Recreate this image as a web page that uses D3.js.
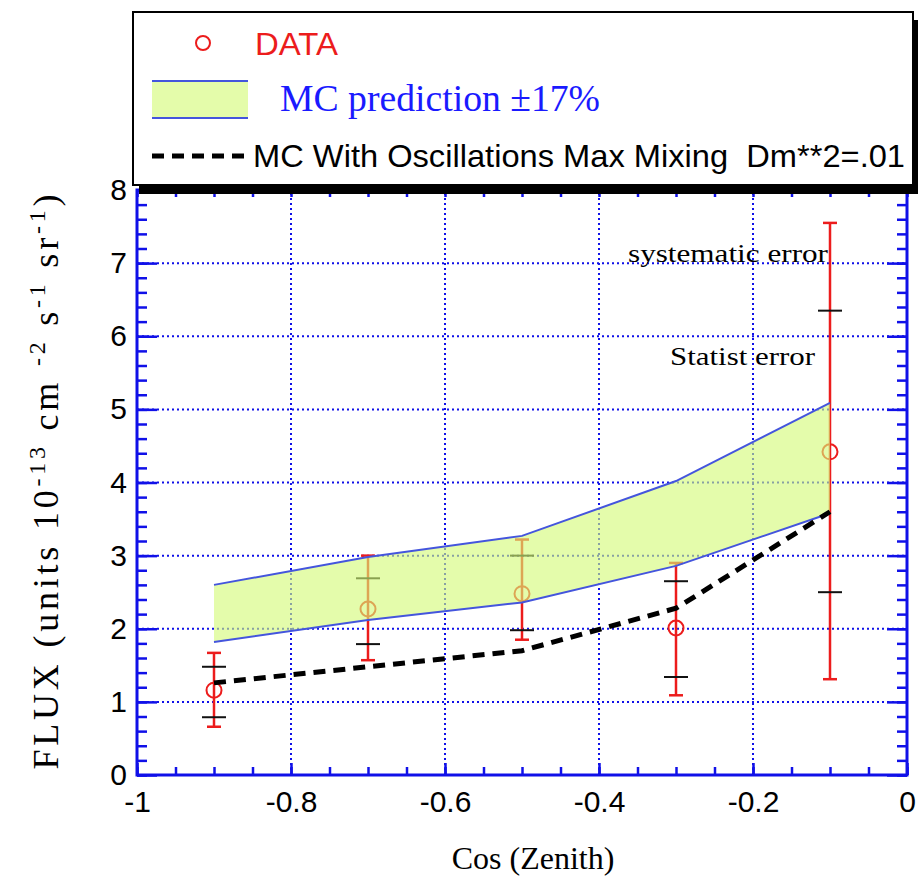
<!DOCTYPE html>
<html lang="en">

<head>
    <meta charset="UTF-8">
    <title>Flux vs Cos(Zenith)</title>
    <script src="https://d3js.org/d3.v7.min.js"></script>
    <style>
        body { margin: 0; background: #fff; }
        text { white-space: pre; }
    </style>
</head>

<body>
    <script>
        // cos(zenith) bins
        var cosZ = [-0.9, -0.7, -0.5, -0.3, -0.1];
        // measured flux
        var dataFlux = [1.16, 2.27, 2.48, 2.01, 4.42];
        // total (systematic) error bar ends
        var sysLow = [0.66, 1.57, 1.85, 1.09, 1.31];
        var sysHigh = [1.67, 3.0, 3.22, 2.9, 7.55];
        // statistical error bar ends
        var statLow = [0.79, 1.79, 1.98, 1.34, 2.5];
        var statHigh = [1.48, 2.69, 3.0, 2.65, 6.35];
        // MC prediction band (+-17%)
        var mcLow = [1.82, 2.12, 2.36, 2.86, 3.58];
        var mcHigh = [2.6, 2.98, 3.27, 4.02, 5.09];
        // MC with oscillations
        var oscX = [-0.9, -0.7, -0.5, -0.3, -0.1];
        var oscY = [1.26, 1.48, 1.7, 2.28, 3.6];

        var xTicks = [-1, -0.8, -0.6, -0.4, -0.2, 0];
        var yTicks = [0, 1, 2, 3, 4, 5, 6, 7, 8];

        var width = 918;
        var height = 877;
        var svg = d3.select("body").append("svg")
            .attr("width", width)
            .attr("height", height);

        var xScale = d3.scaleLinear().domain([-1, 0]).range([137, 907]);
        var yScale = d3.scaleLinear().domain([0, 8]).range([775, 190]);

        var blue = "#1010e8";
        var red = "#ec1c1c";
        var sans = "'Liberation Sans', Arial, sans-serif";
        var serif = "'Liberation Serif', 'Times New Roman', serif";

        // grid
        var grid = svg.append("g");
        grid.selectAll(".gx")
            .data(xTicks.slice(1, -1))
            .enter().append("line")
            .attr("x1", d => xScale(d)).attr("x2", d => xScale(d))
            .attr("y1", yScale(0)).attr("y2", yScale(8))
            .attr("stroke", blue).attr("stroke-width", 2)
            .attr("stroke-dasharray", "2,3");
        grid.selectAll(".gy")
            .data(yTicks.slice(1, -1))
            .enter().append("line")
            .attr("x1", xScale(-1)).attr("x2", xScale(0))
            .attr("y1", d => yScale(d)).attr("y2", d => yScale(d))
            .attr("stroke", blue).attr("stroke-width", 2)
            .attr("stroke-dasharray", "2,3");

        // red error bars (systematic)
        var bars = svg.append("g");
        bars.selectAll(".sys")
            .data(cosZ)
            .enter().append("line")
            .attr("x1", d => xScale(d)).attr("x2", d => xScale(d))
            .attr("y1", (d, i) => yScale(sysLow[i]))
            .attr("y2", (d, i) => yScale(sysHigh[i]))
            .attr("stroke", red).attr("stroke-width", 2.5);
        [sysLow, sysHigh].forEach(function (arr) {
            bars.selectAll(null)
                .data(cosZ)
                .enter().append("line")
                .attr("x1", d => xScale(d) - 7).attr("x2", d => xScale(d) + 7)
                .attr("y1", (d, i) => yScale(arr[i]))
                .attr("y2", (d, i) => yScale(arr[i]))
                .attr("stroke", red).attr("stroke-width", 2.5);
        });
        // black caps (statistical)
        [statLow, statHigh].forEach(function (arr) {
            bars.selectAll(null)
                .data(cosZ)
                .enter().append("line")
                .attr("x1", d => xScale(d) - 12).attr("x2", d => xScale(d) + 12)
                .attr("y1", (d, i) => yScale(arr[i]))
                .attr("y2", (d, i) => yScale(arr[i]))
                .attr("stroke", "#111").attr("stroke-width", 2);
        });
        // data points
        svg.append("g").selectAll("circle")
            .data(cosZ)
            .enter().append("circle")
            .attr("cx", d => xScale(d))
            .attr("cy", (d, i) => yScale(dataFlux[i]))
            .attr("r", 7.5)
            .attr("fill", "none")
            .attr("stroke", red).attr("stroke-width", 2);

        // MC band
        var area = d3.area()
            .x(d => xScale(d))
            .y0((d, i) => yScale(mcLow[i]))
            .y1((d, i) => yScale(mcHigh[i]));
        svg.append("path")
            .attr("d", area(cosZ))
            .attr("fill", "#d4fa78")
            .attr("fill-opacity", 0.62);
        [mcLow, mcHigh].forEach(function (arr) {
            svg.append("path")
                .attr("d", d3.line().x(d => xScale(d)).y((d, i) => yScale(arr[i]))(cosZ))
                .attr("fill", "none")
                .attr("stroke", "#4455dd").attr("stroke-width", 2);
        });

        // oscillation line
        svg.append("path")
            .attr("d", d3.line().x(d => xScale(d)).y((d, i) => yScale(oscY[i]))(oscX))
            .attr("fill", "none")
            .attr("stroke", "#000").attr("stroke-width", 5)
            .attr("stroke-dasharray", "12,8");

        // axes
        function styleAxis(g) {
            g.select(".domain").remove();
            g.selectAll(".tick line").attr("stroke", blue).attr("stroke-width", 2.5);
            g.selectAll("text").attr("fill", "#000")
                .attr("font-family", sans).attr("font-size", 30);
        }
        var xMinor = d3.range(-1, 0.001, 0.05);
        var yMinor = d3.range(0, 8.001, 0.2);

        svg.append("g").attr("transform", "translate(0," + yScale(0) + ")")
            .call(d3.axisBottom(xScale).tickValues(xMinor).tickSize(-8).tickFormat(""))
            .call(styleAxis);
        svg.append("g").attr("transform", "translate(0," + yScale(0) + ")")
            .call(d3.axisBottom(xScale).tickValues(xTicks).tickSize(-12).tickPadding(16)
                .tickFormat(d => d === 0 ? "0" : String(d)))
            .call(styleAxis);
        svg.append("g").attr("transform", "translate(0," + yScale(8) + ")")
            .call(d3.axisTop(xScale).tickValues(xMinor).tickSize(-7).tickFormat(""))
            .call(styleAxis);
        svg.append("g").attr("transform", "translate(" + xScale(-1) + ",0)")
            .call(d3.axisLeft(yScale).tickValues(yMinor).tickSize(-10).tickFormat(""))
            .call(styleAxis);
        svg.append("g").attr("transform", "translate(" + xScale(-1) + ",0)")
            .call(d3.axisLeft(yScale).tickValues(yTicks).tickSize(-20).tickPadding(10))
            .call(styleAxis);
        svg.append("g").attr("transform", "translate(" + xScale(0) + ",0)")
            .call(d3.axisRight(yScale).tickValues(yMinor).tickSize(-10).tickFormat(""))
            .call(styleAxis);
        svg.append("g").attr("transform", "translate(" + xScale(0) + ",0)")
            .call(d3.axisRight(yScale).tickValues(yTicks).tickSize(-20).tickFormat(""))
            .call(styleAxis);

        // frame
        svg.append("rect")
            .attr("x", xScale(-1)).attr("y", yScale(8))
            .attr("width", xScale(0) - xScale(-1))
            .attr("height", yScale(0) - yScale(8))
            .attr("fill", "none").attr("stroke", blue).attr("stroke-width", 3);

        // axis titles
        svg.append("text")
            .attr("x", 533).attr("y", 869)
            .attr("text-anchor", "middle")
            .attr("font-family", serif).attr("font-size", 32)
            .text("Cos (Zenith)");

        var yTitle = svg.append("text")
            .attr("transform", "translate(58,482) rotate(-90)")
            .attr("text-anchor", "middle")
            .attr("font-family", serif).attr("font-size", 36)
            .attr("textLength", 575)
            .attr("lengthAdjust", "spacing");
        var parts = [["FLUX (units 10", 0], ["-13", 1], [" cm ", 0], ["-2", 1], [" s", 0], ["-1", 1], [" sr", 0], ["-1", 1], [")", 0]];
        parts.forEach(function (p) {
            var t = yTitle.append("tspan").text(p[0]);
            if (p[1]) t.attr("dy", -13).attr("font-size", 24);
            else t.attr("dy", 13);
        });
        yTitle.select("tspan").attr("dy", 0);

        // annotations
        svg.append("text").attr("x", 628).attr("y", 262)
            .attr("font-family", serif).attr("font-size", 26)
            .attr("textLength", 200).attr("lengthAdjust", "spacingAndGlyphs")
            .text("systematic error");
        svg.append("text").attr("x", 670).attr("y", 365)
            .attr("font-family", serif).attr("font-size", 26)
            .attr("textLength", 145).attr("lengthAdjust", "spacingAndGlyphs")
            .text("Statist error");

        // legend
        var legend = svg.append("g");
        legend.append("rect")
            .attr("x", 139).attr("y", 20).attr("width", 780).attr("height", 174)
            .attr("fill", "#000");
        legend.append("rect")
            .attr("x", 133).attr("y", 12).attr("width", 780).attr("height", 173)
            .attr("fill", "#fff").attr("stroke", "#000").attr("stroke-width", 2);
        legend.append("circle")
            .attr("cx", 203).attr("cy", 43).attr("r", 7)
            .attr("fill", "none").attr("stroke", red).attr("stroke-width", 2);
        legend.append("text").attr("x", 255).attr("y", 55)
            .attr("fill", red).attr("font-family", sans).attr("font-size", 32)
            .attr("textLength", 83).attr("lengthAdjust", "spacingAndGlyphs")
            .text("DATA");
        legend.append("rect")
            .attr("x", 152).attr("y", 81).attr("width", 96).attr("height", 37)
            .attr("fill", "#e4fcaa");
        [81, 118].forEach(function (yy) {
            legend.append("line")
                .attr("x1", 152).attr("x2", 248).attr("y1", yy).attr("y2", yy)
                .attr("stroke", "#4455dd").attr("stroke-width", 2);
        });
        legend.append("text").attr("x", 280).attr("y", 111)
            .attr("fill", "#1a1aff").attr("font-family", serif).attr("font-size", 37)
            .attr("textLength", 320).attr("lengthAdjust", "spacingAndGlyphs")
            .text("MC prediction \u00b117%");
        legend.append("line")
            .attr("x1", 152).attr("x2", 252).attr("y1", 156).attr("y2", 156)
            .attr("stroke", "#000").attr("stroke-width", 5)
            .attr("stroke-dasharray", "12,8");
        legend.append("text").attr("x", 253).attr("y", 167)
            .attr("fill", "#000").attr("font-family", sans).attr("font-size", 32)
            .attr("textLength", 652).attr("lengthAdjust", "spacingAndGlyphs")
            .text("MC With Oscillations Max Mixing  Dm**2=.01");
    </script>
</body>

</html>
